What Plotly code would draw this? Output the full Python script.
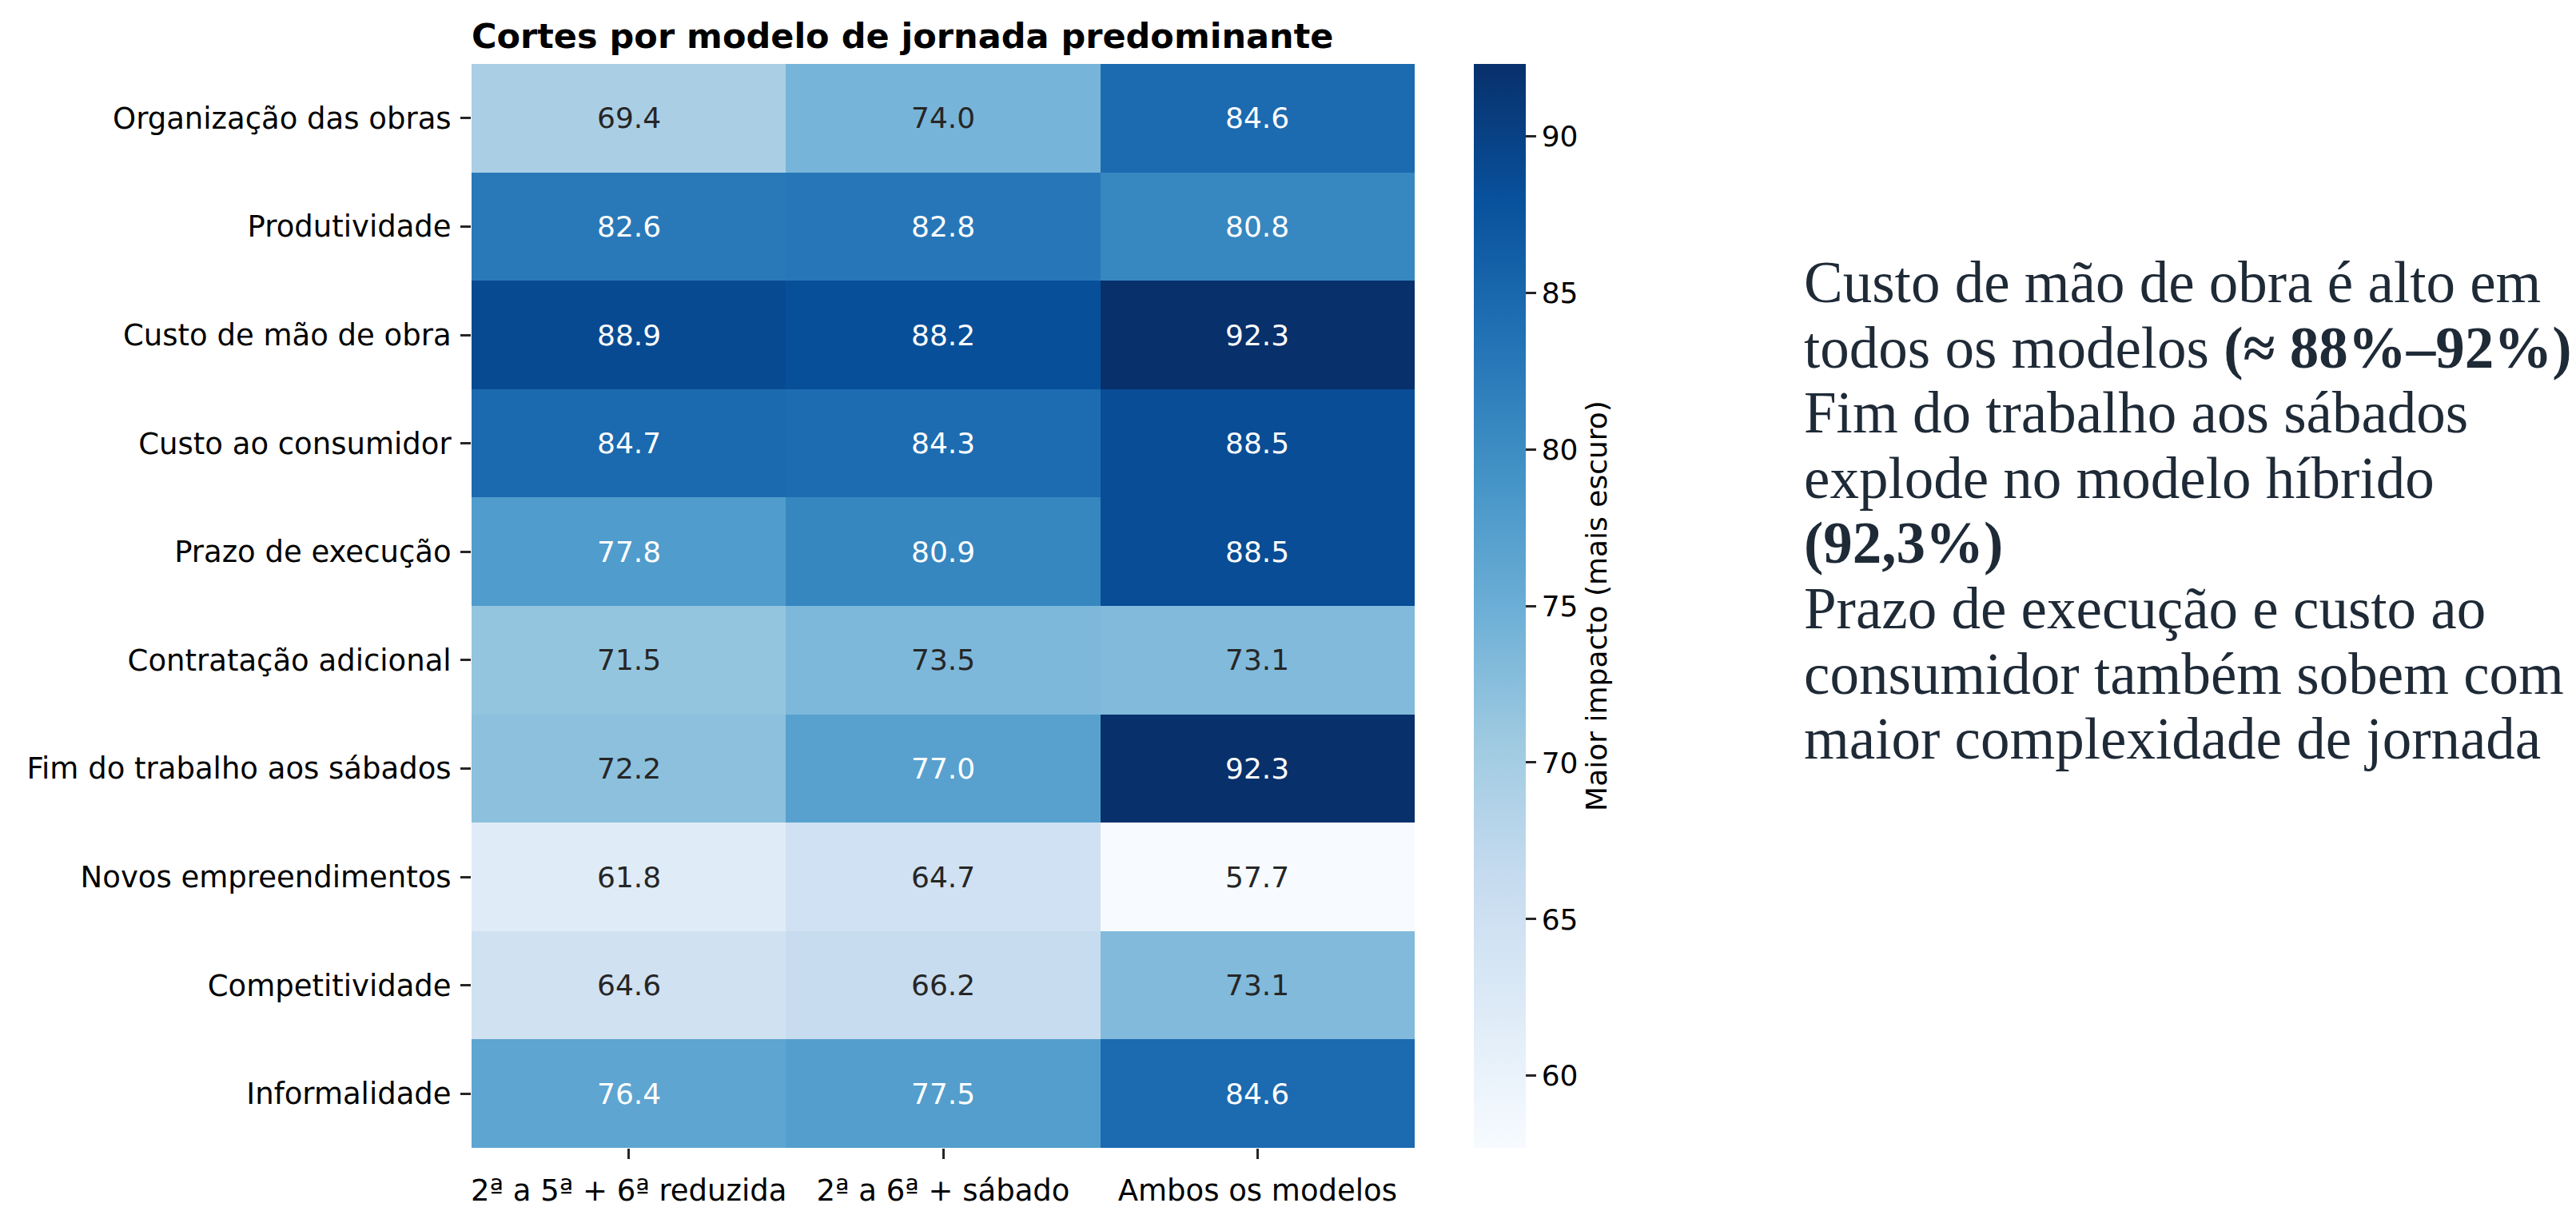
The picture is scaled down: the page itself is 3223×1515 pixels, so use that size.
"""
Heatmap of the share of companies expecting cuts, by working-week model,
with a short text summary on the right side.
"""

import plotly.graph_objs as go
import plotly.colors as colors

# data
impacts = ['Organização das obras', 'Produtividade', 'Custo de mão de obra',
           'Custo ao consumidor', 'Prazo de execução', 'Contratação adicional',
           'Fim do trabalho aos sábados', 'Novos empreendimentos',
           'Competitividade', 'Informalidade']

models = ['2ª a 5ª + 6ª reduzida', '2ª a 6ª + sábado', 'Ambos os modelos']

reduzida = [69.4, 82.6, 88.9, 84.7, 77.8, 71.5, 72.2, 61.8, 64.6, 76.4]
sabado = [74.0, 82.8, 88.2, 84.3, 80.9, 73.5, 77.0, 64.7, 66.2, 77.5]
ambos = [84.6, 80.8, 92.3, 88.5, 88.5, 73.1, 92.3, 57.7, 73.1, 84.6]

colorbar_ticks = [60, 65, 70, 75, 80, 85, 90]

summary_lines = [
    'Custo de mão de obra é alto em',
    'todos os modelos <b>(≈ 88%–92%)</b>',
    'Fim do trabalho aos sábados',
    'explode no modelo híbrido',
    '<b>(92,3%)</b>',
    'Prazo de execução e custo ao',
    'consumidor também sobem com',
    'maior complexidade de jornada',
]

FONT = 'DejaVu Sans'
W, H = 3223, 1515
L, R, T, B = 582, 1461, 72, 70
PLOT_W, PLOT_H = W - L - R, H - T - B


def luminance(rgb_str):
    """relative luminance of an 'rgb(r, g, b)' string (same rule as seaborn)"""
    vals = [float(v) / 255 for v in rgb_str[rgb_str.find('(') + 1:-1].split(',')]
    lin = [v / 12.92 if v <= 0.03928 else ((v + 0.055) / 1.055) ** 2.4
           for v in vals]
    return 0.2126 * lin[0] + 0.7152 * lin[1] + 0.0722 * lin[2]


def px_x(x):
    return (x - L) / PLOT_W


def px_y(y):
    return 1 - (y - T) / PLOT_H


z = [list(row) for row in zip(reduzida, sabado, ambos)]
zmin = min(min(r) for r in z)
zmax = max(max(r) for r in z)

# matplotlib's Blues is the same 9-class colorbrewer ramp
blues = colors.make_colorscale(colors.sequential.Blues)

heat = go.Heatmap(z=z, x=models, y=impacts, colorscale=blues,
                  zmin=zmin, zmax=zmax, xgap=0, ygap=0,
                  hovertemplate='%{y}<br>%{x}: %{z:.1f}<extra></extra>',
                  colorbar=dict(x=px_x(1836), xanchor='left', xpad=0,
                                y=0.5, yanchor='middle', len=1, ypad=0,
                                thickness=65, outlinewidth=0,
                                tickmode='array', tickvals=colorbar_ticks,
                                ticks='outside', ticklen=13, tickwidth=3,
                                tickcolor='#262626',
                                tickfont=dict(family=FONT, size=36,
                                              color='#000000'),
                                title=dict(text='Maior impacto (mais escuro)',
                                           side='right',
                                           font=dict(family=FONT, size=36,
                                                     color='#000000'))))

fig = go.Figure(heat)

# value labels in each cell, dark or white text depending on the cell colour
annotations = []
for i, name in enumerate(impacts):
    for j, model in enumerate(models):
        v = z[i][j]
        cell = colors.sample_colorscale(blues, (v - zmin) / (zmax - zmin))[0]
        txt_color = '#262626' if luminance(cell) > 0.408 else '#ffffff'
        annotations.append(dict(x=model, y=name, text=f'{v:.1f}',
                                showarrow=False,
                                font=dict(family=FONT, size=36,
                                          color=txt_color)))

# summary text on the right side
for k, line in enumerate(summary_lines):
    annotations.append(dict(xref='paper', yref='paper',
                            x=px_x(2247), y=px_y(349 + k * 82.6),
                            xanchor='left', yanchor='middle',
                            text=line, showarrow=False,
                            font=dict(family='Liberation Serif', size=73,
                                      color='#1f2a37')))

fig.update_xaxes(type='category', showgrid=False, zeroline=False,
                 showline=False, ticks='outside', ticklen=13, tickwidth=3,
                 tickcolor='#262626', ticklabelstandoff=8,
                 tickfont=dict(family=FONT, size=37, color='#000000'))

fig.update_yaxes(type='category', autorange='reversed', showgrid=False,
                 zeroline=False, showline=False, ticks='outside', ticklen=13,
                 tickwidth=3, tickcolor='#262626', ticklabelstandoff=4,
                 tickfont=dict(family=FONT, size=37, color='#000000'))

fig.update_layout(width=W, height=H,
                  margin=dict(l=L, r=R, t=T, b=B, pad=0),
                  plot_bgcolor='white', paper_bgcolor='white',
                  title=dict(text='<b>Cortes por modelo de jornada predominante</b>',
                             x=0, xref='paper', xanchor='left',
                             y=1 - 37 / H, yref='container', yanchor='middle',
                             font=dict(family=FONT, size=43, color='#000000')),
                  annotations=annotations)

fig.write_html('out.html')
